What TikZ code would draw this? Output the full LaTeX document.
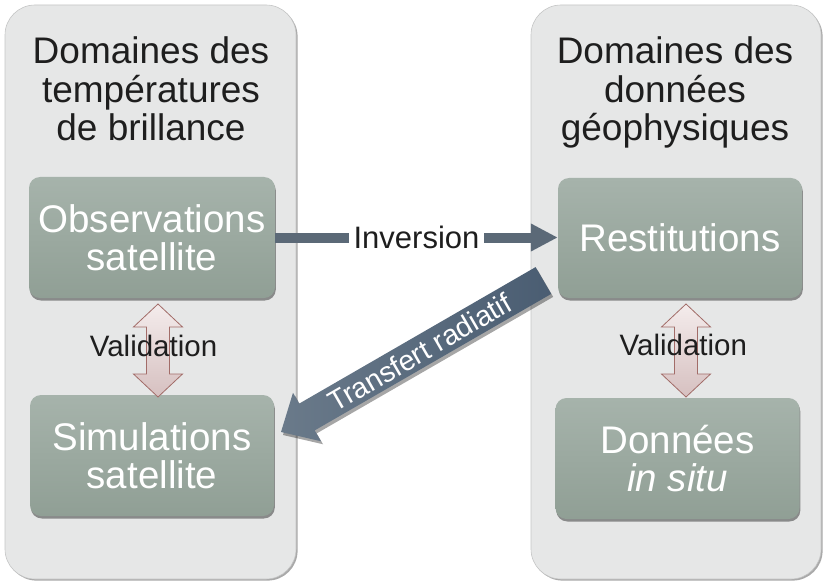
\documentclass[tikz,border=0pt]{standalone}
\usepackage{fontspec}
\setmainfont{Liberation Sans}
\usetikzlibrary{shadows,arrows.meta,calc}
\definecolor{panelfill}{HTML}{E6E7E7}
\definecolor{paneledge}{HTML}{C4C5C5}
\definecolor{boxA}{HTML}{A6B3AB}
\definecolor{boxB}{HTML}{909F95}
\definecolor{invcol}{HTML}{5B6977}
\definecolor{trA}{HTML}{6A7A8A}
\definecolor{trB}{HTML}{4A5D72}
\definecolor{valA}{HTML}{F4ECEC}
\definecolor{valB}{HTML}{D6C0C0}
\definecolor{valedge}{HTML}{A26C68}
\definecolor{txt}{HTML}{1E1E1E}
\newcommand\valshape[1]{\path[valarrow] (#1,304) -- ++(24.5,23) -- ++(-13,0) -- ++(0,47) -- ++(13,0) -- (#1,397) -- ++(-24.5,-23) -- ++(13,0) -- ++(0,-47) -- ++(-13,0) -- cycle;}
\begin{document}
\begin{tikzpicture}[x=1pt,y=-1pt,
 panel/.style={fill=panelfill, draw=paneledge, line width=0.6pt, rounded corners=30pt,
   drop shadow={shadow xshift=1.6pt, shadow yshift=-1.6pt, opacity=0.75, fill=black!45}},
 box/.style={rectangle, rounded corners=11pt, top color=boxA, bottom color=boxB, text=white,
   inner sep=0pt, align=center, font=\fontsize{38.5}{38.5}\selectfont,
   drop shadow={shadow xshift=0.8pt, shadow yshift=-2.5pt, opacity=0.6, fill=black!70}},
 title/.style={text=txt, inner sep=0pt, align=center, font=\fontsize{37}{38.5}\selectfont, anchor=north},
 vallabel/.style={text=txt, inner sep=0pt, anchor=base, font=\fontsize{29.5}{29.5}\selectfont},
 valarrow/.style={draw=valedge, line width=0.8pt, top color=valA, bottom color=valB},
 invarrow/.style={draw=invcol, line width=10pt, -{Triangle[length=27pt,width=26pt]}},
 trlab/.style={rotate=30, text=white, inner sep=0pt, font=\fontsize{28.5}{28.5}\selectfont},
]
\useasboundingbox (0,0) rectangle (829,588);
\path[panel] (5,5) rectangle (296,579);
\path[panel] (531,5) rectangle (821,579);

\node[title] (tl) at (151,36.5) {Domaines des\\températures\\de brillance};
\node[title] (tr) at (675,36.5) {Domaines des\\données\\géophysiques};

\node[box, minimum width=246pt, minimum height=121pt] (obs) at (152,237.5) {Observations\\satellite};
\node[box, minimum width=244pt, minimum height=121pt] (sim) at (152,455.5) {Simulations\\satellite};
\node[box, minimum width=244pt, minimum height=120pt] (rest) at (680,238) {Restitutions};
\node[box, minimum width=244pt, minimum height=121pt] (don) at (677.5,458.5) {Données\\\textit{in situ}};

\draw[invarrow] (obs.east) -- node[fill=white, text=txt, inner xsep=5pt, inner ysep=2pt,
   font=\fontsize{31}{31}\selectfont] (inv) {Inversion} (obs.east -| rest.west);

\path[drop shadow={shadow xshift=2pt,shadow yshift=-3pt,opacity=0.35,fill=black},
      left color=trA, right color=trB]
  (281,432) -- (293,392.75) -- (299.2,403.6) -- (535.6,267.1) -- (551.2,293.9)
  -- (314.7,430.4) -- (321,441.25) -- cycle;
\node[trlab] (trl) at (419.5,352.5) {Transfert radiatif};

\valshape{158}
\valshape{686}
\node[vallabel] (v1) at (153.5,356.5) {Validation};
\node[vallabel] (v2) at (683.3,355.5) {Validation};
\end{tikzpicture}
\end{document}
